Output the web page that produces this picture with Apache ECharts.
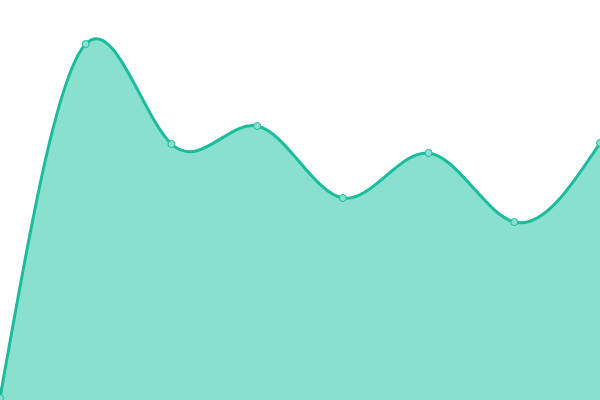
<!DOCTYPE html>
<html>
<head>
<meta charset="utf-8">
<style>
html,body{margin:0;padding:0;background:#fff;}
#main{width:600px;height:400px;}
</style>
<script src="https://cdn.jsdelivr.net/npm/echarts@6/dist/echarts.min.js"></script>
</head>
<body>
<div id="main"></div>
<script>
// 横轴类别和数值
var categories = ['1', '2', '3', '4', '5', '6', '7', '8'];
var values = [0.5, 89, 64, 68.5, 50.5, 61.75, 44.5, 64.25];

var lineColor = '#1abc9c';
var fillColor = '#8ae0cf';

// 自然三次样条的控制点（每个坐标分量单独算）
function controlPoints(x) {
	var i, n = x.length - 1, m, a = new Array(n), b = new Array(n), r = new Array(n);
	a[0] = 0; b[0] = 2; r[0] = x[0] + 2 * x[1];
	for (i = 1; i < n - 1; ++i) { a[i] = 1; b[i] = 4; r[i] = 4 * x[i] + 2 * x[i + 1]; }
	a[n - 1] = 2; b[n - 1] = 7; r[n - 1] = 8 * x[n - 1] + x[n];
	for (i = 1; i < n; ++i) { m = a[i] / b[i - 1]; b[i] -= m; r[i] -= m * r[i - 1]; }
	a[n - 1] = r[n - 1] / b[n - 1];
	for (i = n - 2; i >= 0; --i) a[i] = (r[i] - a[i + 1]) / b[i];
	b[n - 1] = (x[n] + a[n - 1]) / 2;
	for (i = 0; i < n - 1; ++i) b[i] = 2 * x[i + 1] - a[i + 1];
	return [a, b];
}

function renderCurve(params, api) {
	if (params.dataIndex !== 0) return;
	var xs = [], ys = [];
	for (var i = 0; i < values.length; i++) {
		var p = api.coord([i, values[i]]);
		xs.push(p[0]); ys.push(p[1]);
	}
	var px = controlPoints(xs), py = controlPoints(ys);
	var d = 'M' + xs[0] + ' ' + ys[0];
	for (var j = 0; j < xs.length - 1; j++) {
		d += ' C' + px[0][j] + ' ' + py[0][j] + ' ' + px[1][j] + ' ' + py[1][j] + ' ' + xs[j + 1] + ' ' + ys[j + 1];
	}
	var base = api.coord([0, 0])[1];
	var area = d + ' L' + xs[xs.length - 1] + ' ' + base + ' L' + xs[0] + ' ' + base + ' Z';
	return {
		type: 'group',
		children: [
			{ type: 'path', shape: { pathData: area }, style: { fill: fillColor, stroke: null } },
			{ type: 'path', shape: { pathData: d }, style: { fill: null, stroke: lineColor, lineWidth: 3 } }
		]
	};
}

var myChart = echarts.init(document.getElementById('main'));
var option = {
	animation: false,
	grid: { left: 0, right: 0, top: 0, bottom: 0 },
	xAxis: {
		type: 'category',
		data: categories,
		boundaryGap: false,
		show: false
	},
	yAxis: {
		type: 'value',
		min: 0,
		max: 100,
		show: false
	},
	series: [
		{
			type: 'custom',
			renderItem: renderCurve,
			data: values.map(function (v, i) { return [i, v]; }),
			encode: { x: 0, y: 1 },
			z: 1
		},
		{
			type: 'line',
			data: values,
			symbol: 'circle',
			symbolSize: 7,
			lineStyle: { opacity: 0 },
			itemStyle: { color: fillColor, borderColor: lineColor, borderWidth: 1 },
			z: 3
		}
	]
};
myChart.setOption(option);
</script>
</body>
</html>
